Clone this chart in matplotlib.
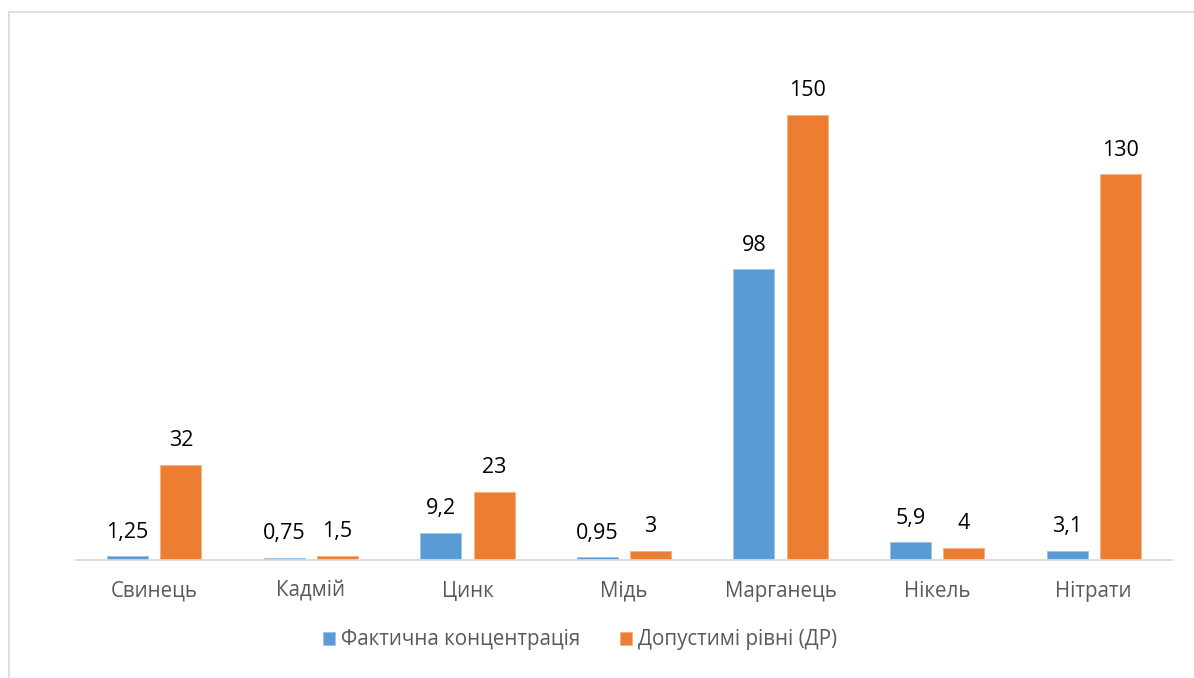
import matplotlib
matplotlib.use("Agg")
import matplotlib.pyplot as plt
from matplotlib.patches import Rectangle
import numpy as np

categories = ["Свинець", "Кадмій", "Цинк", "Мідь", "Марганець", "Нікель", "Нітрати"]
actual = [1.25, 0.75, 9.2, 0.95, 98, 5.9, 3.1]
allowed = [32, 1.5, 23, 3, 150, 4, 130]
actual_labels = ["1,25", "0,75", "9,2", "0,95", "98", "5,9", "3,1"]
allowed_labels = ["32", "1,5", "23", "3", "150", "4", "130"]
series_names = ["Фактична концентрація", "Допустимі рівні (ДР)"]

plt.rcParams['font.family'] = ['Open Sans', 'DejaVu Sans']

W, H = 1194, 678
fig = plt.figure(figsize=(W / 100, H / 100), dpi=100)
ax = fig.add_axes([76 / W, 1 - 560 / H, (1172 - 76) / W, (560 - 20) / H])

x = np.arange(len(categories))
bw = 0.262
off = 0.17
blue = "#5B9BD5"
orange = "#ED7D31"
b1 = ax.bar(x - off, actual, bw, color=blue, edgecolor="#9DC3E6", linewidth=0.6, label=series_names[0])
b2 = ax.bar(x + off, allowed, bw, color=orange, edgecolor="#F4B183", linewidth=0.6, label=series_names[1])

for rect, lab in zip(b1, actual_labels):
    ax.text(rect.get_x() + rect.get_width() / 2, rect.get_height() + 4.6, lab,
            ha="center", va="bottom", fontsize=15.5, color="#000000")
for rect, lab in zip(b2, allowed_labels):
    ax.text(rect.get_x() + rect.get_width() / 2, rect.get_height() + 4.6, lab,
            ha="center", va="bottom", fontsize=15.5, color="#000000")

ax.set_xlim(-0.5, len(categories) - 0.5)
ax.set_ylim(0, 182)
ax.set_xticks(x)
ax.set_xticklabels(categories, fontsize=14.8, color="#595959")
ax.tick_params(axis="x", length=0, pad=15)
ax.set_yticks([])
for s in ["top", "right", "left"]:
    ax.spines[s].set_visible(False)
ax.spines["bottom"].set_color("#D9D9D9")
ax.spines["bottom"].set_linewidth(1.3)

leg = fig.legend(handles=[b1, b2], labels=series_names, loc="center",
                 bbox_to_anchor=(580 / W, 1 - 640 / H), ncol=2, frameon=False,
                 fontsize=14.8, handlelength=0.6, handleheight=0.6, handletextpad=0.3,
                 columnspacing=1.9)
for t in leg.get_texts():
    t.set_color("#595959")

fig.patches.append(Rectangle((8.5 / W, -0.1), 1.2, 1.1 - 12.5 / H, transform=fig.transFigure,
                             fill=False, edgecolor="#D9D9D9", linewidth=1.2))

fig.savefig("out.png", dpi=100, facecolor="white")
